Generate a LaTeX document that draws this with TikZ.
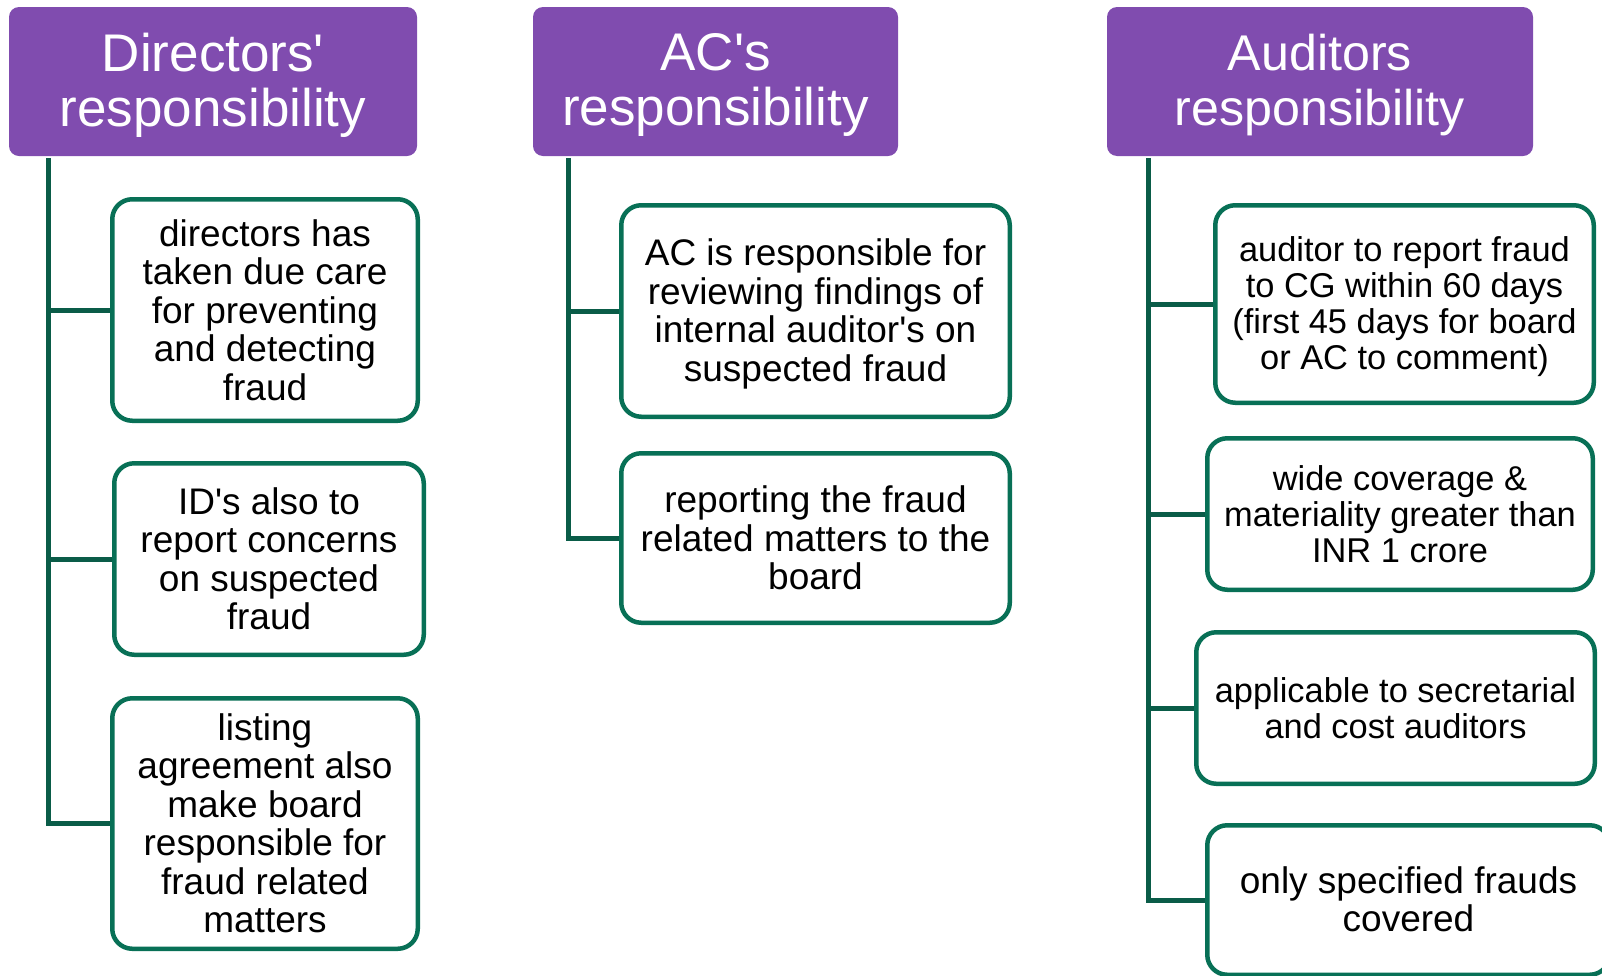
\documentclass[tikz,border=0pt]{standalone}
\usepackage{fontspec}
\setmainfont{Liberation Sans}[Ligatures=TeXOff]
\definecolor{hdrpurple}{RGB}{128,76,175}
\definecolor{boxgreen}{RGB}{8,112,86}
\definecolor{linegreen}{RGB}{10,92,72}
\begin{document}
\begin{tikzpicture}[x=1pt,y=-1pt,
  header/.style={fill=hdrpurple, rounded corners=10pt, text=white, align=center,
    inner sep=0pt, text depth=4pt, font=\fontsize{53}{55}\selectfont},
  item/.style={draw=boxgreen, line width=4.5pt, rounded corners=20pt, fill=white,
    align=center, inner sep=0pt, font=\fontsize{37}{38.5}\selectfont},
  smalltext/.style={font=\fontsize{34.4}{36}\selectfont},
  trunk/.style={draw=linegreen, line width=5pt, line join=miter}
]
\useasboundingbox (0,0) rectangle (1602,975);
\clip (0,0) rectangle (1602,975);

% column headers
\node[header, minimum width=408pt, minimum height=149pt] (h1) at (213,81.5) {Directors'\\responsibility};
\node[header, minimum width=365pt, minimum height=149pt] (h2) at (715.5,81.5) {AC's\\responsibility};
\node[header, minimum width=426pt, minimum height=149pt, font=\fontsize{50.2}{55}\selectfont] (h3) at (1320,81.5) {Auditors\\responsibility};

% directors' column
\node[item, minimum width=305.5pt, minimum height=221.5pt] (b11) at (265,310)
  {directors has\\taken due care\\for preventing\\and detecting\\fraud};
\node[item, minimum width=309.5pt, minimum height=191.5pt] (b12) at (269,559)
  {ID's also to\\report concerns\\on suspected\\fraud};
\node[item, minimum width=305.5pt, minimum height=250.5pt] (b13) at (265,823.5)
  {listing\\agreement also\\make board\\responsible for\\fraud related\\matters};

% AC column
\node[item, minimum width=388.5pt, minimum height=211.5pt, text depth=2pt] (b21) at (815.5,311)
  {AC is responsible for\\reviewing findings of\\internal auditor's on\\suspected fraud};
\node[item, minimum width=388.5pt, minimum height=169.5pt] (b22) at (815.5,538)
  {reporting the fraud\\related matters to the\\board};

% auditors column
\node[item, smalltext, minimum width=378.5pt, minimum height=197.5pt, text depth=1.5pt] (b31) at (1404.5,304)
  {auditor to report fraud\\to CG within 60 days\\(first 45 days for board\\or AC to comment)};
\node[item, smalltext, minimum width=385.5pt, minimum height=151.5pt] (b32) at (1400,514)
  {wide coverage \&\\materiality greater than\\INR 1 crore};
\node[item, smalltext, minimum width=398.5pt, minimum height=151.5pt] (b33) at (1395.5,708)
  {applicable to secretarial\\and cost auditors};
\node[item, minimum width=402.5pt, minimum height=149.5pt, text depth=2pt] (b34) at (1408.5,900)
  {only specified frauds\\covered};

% trunks and branches
\coordinate (t1) at (48,158);
\coordinate (t2) at (568,158);
\coordinate (t3) at (1148,158);

\draw[trunk] (t1) |- (b13.west);
\draw[trunk] (t1 |- b11.west) -- (b11.west);
\draw[trunk] (t1 |- b12.west) -- (b12.west);

\draw[trunk] (t2) |- (b22.west);
\draw[trunk] (t2 |- b21.west) -- (b21.west);

\draw[trunk] (t3) |- (b34.west);
\draw[trunk] (t3 |- b31.west) -- (b31.west);
\draw[trunk] (t3 |- b32.west) -- (b32.west);
\draw[trunk] (t3 |- b33.west) -- (b33.west);
\end{tikzpicture}
\end{document}
